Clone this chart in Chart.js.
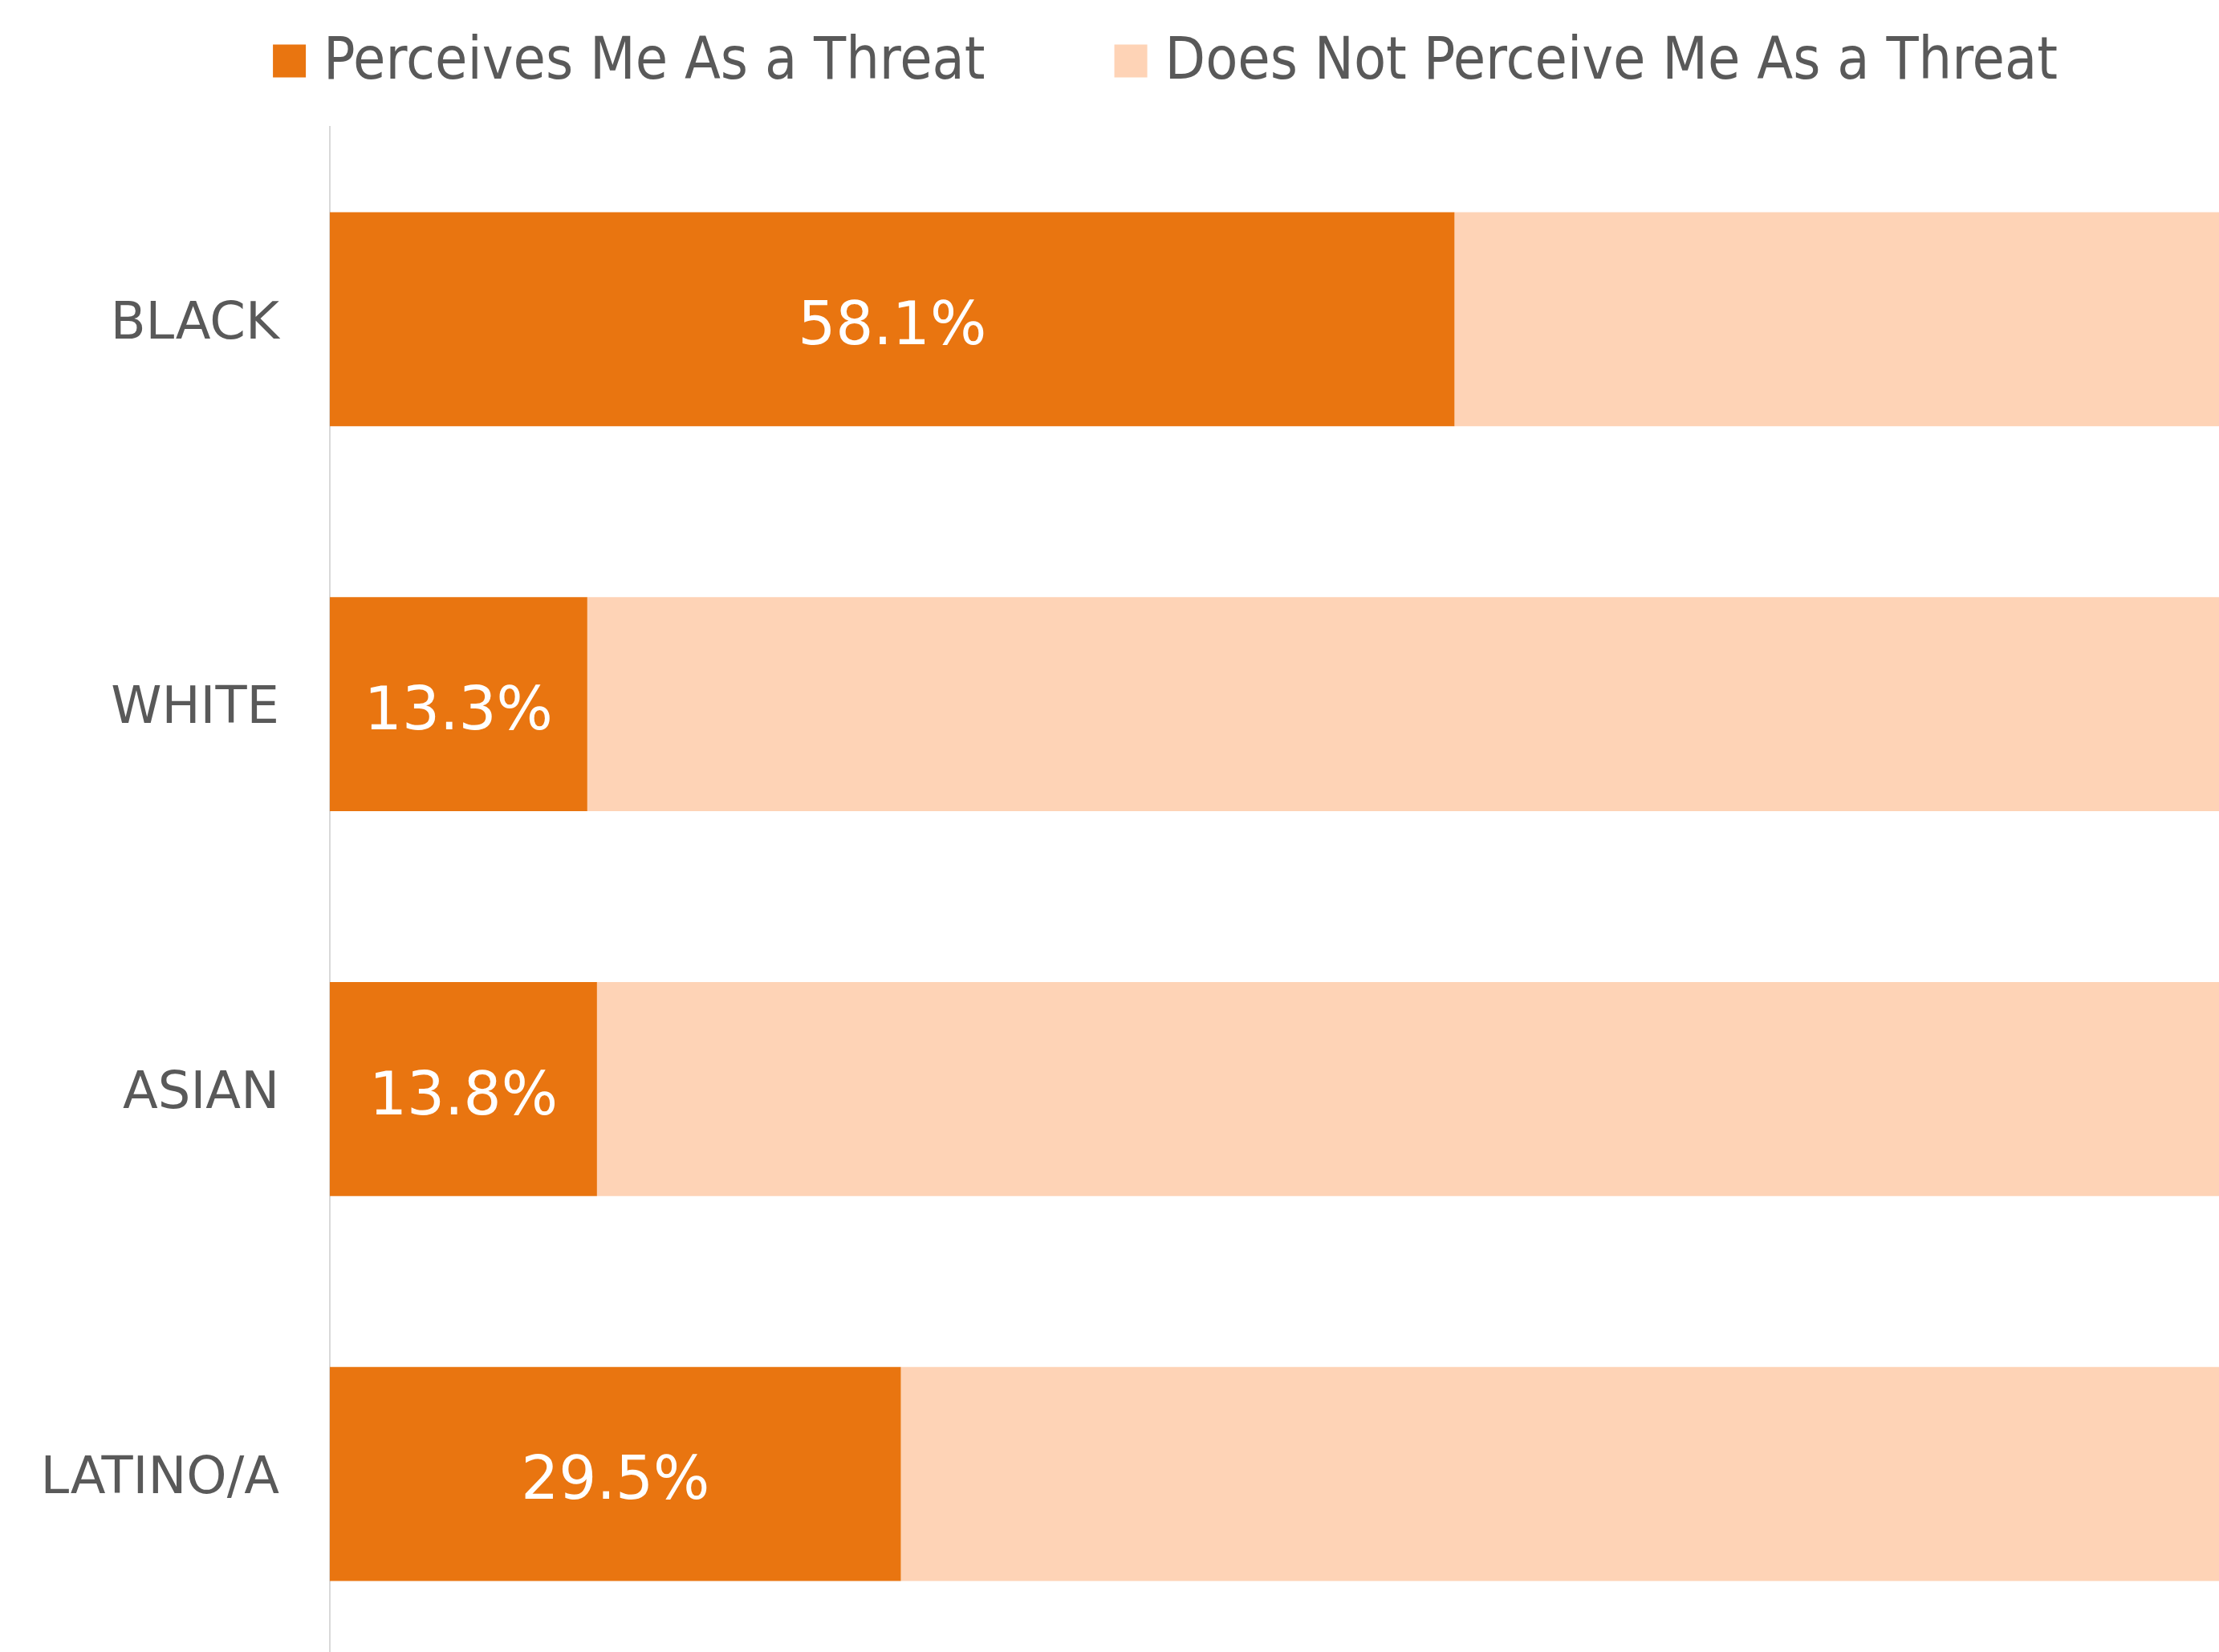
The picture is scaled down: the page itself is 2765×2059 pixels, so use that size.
<!DOCTYPE html>
<html>
<head>
<meta charset="utf-8">
<script src="https://cdn.jsdelivr.net/npm/chart.js@4.4.1/dist/chart.umd.min.js"></script>
<style>
  html, body { margin: 0; padding: 0; overflow: hidden; background: #ffffff; }
  canvas { display: block; }
</style>
</head>
<body>
<canvas id="myChart" width="2918" height="2100" style="width:2918px;height:2100px"></canvas>
<script>
const categories = ['BLACK', 'WHITE', 'ASIAN', 'LATINO/A'];
const perceivesThreat = [58.1, 13.3, 13.8, 29.5];
const doesNotPerceive = [41.9, 86.7, 86.2, 70.5];
const seriesNames = ['Perceives Me As a Threat', 'Does Not Perceive Me As a Threat'];
const seriesColors = ['#E97510', '#FED3B6'];

const textGrey = '#595959';

// legend row above the plot, drawn by hand so the spacing can follow the original
const topLegend = {
  id: 'topLegend',
  afterDraw(chart) {
    const ctx = chart.ctx;
    const box = 41;
    const gapText = 22;
    const gapItem = 161;
    const midY = 79;
    ctx.save();
    ctx.font = '73px "DejaVu Sans Condensed", "DejaVu Sans"';
    ctx.textBaseline = 'middle';
    ctx.textAlign = 'left';

    const widths = chart.data.datasets.map(ds => ctx.measureText(ds.label).width);
    let total = 0;
    widths.forEach((w, i) => {
      total += box + gapText + w;
      if (i > 0) total += gapItem;
    });

    let x = 1452 - total / 2;
    chart.data.datasets.forEach((ds, i) => {
      ctx.fillStyle = ds.backgroundColor;
      ctx.fillRect(x, midY - box / 2 - 3, box, box);
      ctx.fillStyle = textGrey;
      ctx.fillText(ds.label, x + box + gapText, midY);
      x += box + gapText + widths[i] + gapItem;
    });
    ctx.restore();
  }
};

// white value labels in the middle of the dark bars
const barLabels = {
  id: 'barLabels',
  afterDatasetsDraw(chart) {
    const ctx = chart.ctx;
    const meta = chart.getDatasetMeta(0);
    ctx.save();
    ctx.fillStyle = '#ffffff';
    ctx.font = '74px "DejaVu Sans"';
    ctx.textAlign = 'center';
    ctx.textBaseline = 'middle';
    meta.data.forEach(function (bar, i) {
      const c = bar.getCenterPoint();
      ctx.fillText(perceivesThreat[i].toFixed(1) + '%', c.x, c.y + 12);
    });
    ctx.restore();
  }
};

const context = document.getElementById('myChart').getContext('2d');
const myChart = new Chart(context, {
  type: 'bar',
  data: {
    labels: categories,
    datasets: [
      {
        label: seriesNames[0],
        data: perceivesThreat,
        backgroundColor: seriesColors[0],
        borderWidth: 0,
        categoryPercentage: 1,
        barPercentage: 0.556
      },
      {
        label: seriesNames[1],
        data: doesNotPerceive,
        backgroundColor: seriesColors[1],
        borderWidth: 0,
        categoryPercentage: 1,
        barPercentage: 0.556
      }
    ]
  },
  options: {
    indexAxis: 'y',
    responsive: false,
    animation: false,
    devicePixelRatio: 1,
    layout: {
      padding: { left: 0, right: 95, top: 158, bottom: 23 }
    },
    scales: {
      x: {
        stacked: true,
        min: 0,
        max: 100,
        display: false
      },
      y: {
        stacked: true,
        grid: { display: false, drawTicks: false },
        border: { display: true, color: '#D9D9D9', width: 2 },
        ticks: {
          color: textGrey,
          font: { family: 'DejaVu Sans', size: 64 },
          padding: 63,
          labelOffset: 7
        },
        afterFit(scale) {
          // fixed label column, and no extra room reserved above/below for the tick text
          scale.width = 411;
          scale.paddingTop = 0;
          scale.paddingBottom = 0;
        }
      }
    },
    plugins: {
      legend: { display: false },
      tooltip: { enabled: false }
    }
  },
  plugins: [barLabels, topLegend]
});
</script>
</body>
</html>
